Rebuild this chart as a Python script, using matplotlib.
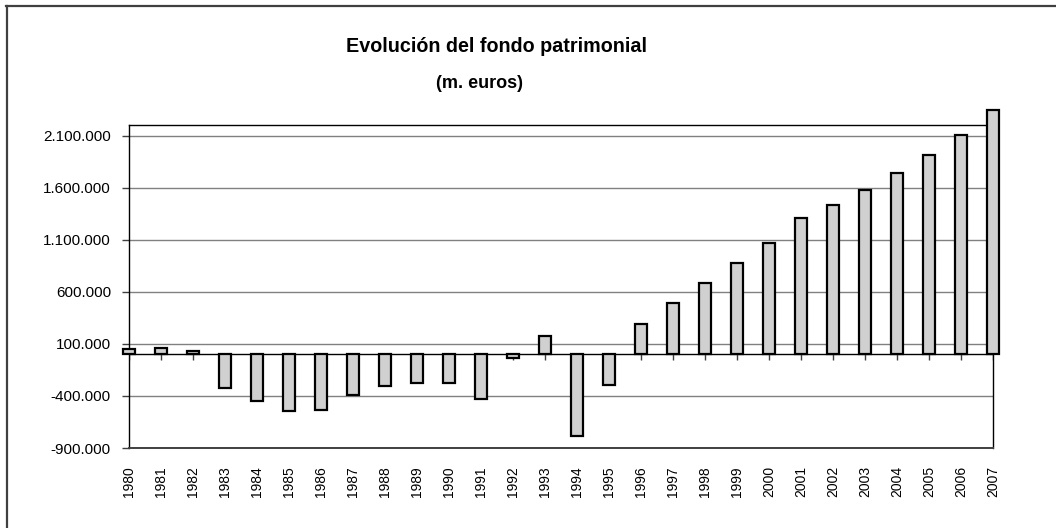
import matplotlib
matplotlib.use("Agg")
import matplotlib.pyplot as plt
from matplotlib.lines import Line2D
import numpy as np

years = [str(y) for y in range(1980, 2008)]
values = [50000, 65000, 30000, -320000, -445000, -540000, -535000, -387000,
          -307000, -275000, -272000, -432000, -32000, 177000, -782000, -291000,
          295000, 491000, 684000, 876000, 1074000, 1309000, 1439000, 1578000,
          1744000, 1914000, 2110000, 2353000]
yticks = [-900000, -400000, 100000, 600000, 1100000, 1600000, 2100000]
title = "Evolución del fondo patrimonial"
subtitle = "(m. euros)"

plt.rcParams['font.family'] = ['Liberation Sans', 'DejaVu Sans']

fig = plt.figure(figsize=(10.56, 5.28), dpi=100)
ax = fig.add_axes([129/1056, 1-448/528, (993-129)/1056, (448-125)/528])

x = np.arange(len(years))
ax.bar(x, values, width=0.37, color='#d0d0d0', edgecolor='black',
       linewidth=1.6, zorder=3, clip_on=False)

ax.set_xlim(0, len(years) - 1)
ax.set_ylim(-900000, 2205000)

ax.set_yticks(yticks)
ax.set_yticklabels([f"{v:,.0f}".replace(',', '.') for v in yticks], fontsize=11)
ax.grid(axis='y', color='#808080', linewidth=1.0, zorder=1)
ax.tick_params(axis='y', length=5, width=1, color='#404040', pad=8)

ax.set_xticks(x)
ax.set_xticklabels(years, rotation=90, fontsize=10)
ax.tick_params(axis='x', length=0, pad=13)

# zero line and small category ticks
ax.axhline(0, color='black', linewidth=1.0, zorder=2)
ax.vlines(x, 0, -50000, color='#404040', linewidth=1.0, zorder=2)

for s in ['left', 'top', 'right']:
    ax.spines[s].set_color('black')
    ax.spines[s].set_linewidth(1.0)
ax.spines['bottom'].set_color('#404040')
ax.spines['bottom'].set_linewidth(1.4)

fig.text(496/1056, 1-47/528, title, ha='center', va='center',
         fontsize=14.2, fontweight='bold')
fig.text(480/1056, 1-84/528, subtitle, ha='center', va='center',
         fontsize=13, fontweight='bold')

# outer frame (top and left edges)
fig.add_artist(Line2D([6/1056, 1.0], [1-6/528, 1-6/528], transform=fig.transFigure,
                      color='#404040', linewidth=1.6))
fig.add_artist(Line2D([7/1056, 7/1056], [0, 1-6/528], transform=fig.transFigure,
                      color='#404040', linewidth=1.6))

fig.savefig("out.png", dpi=100)
